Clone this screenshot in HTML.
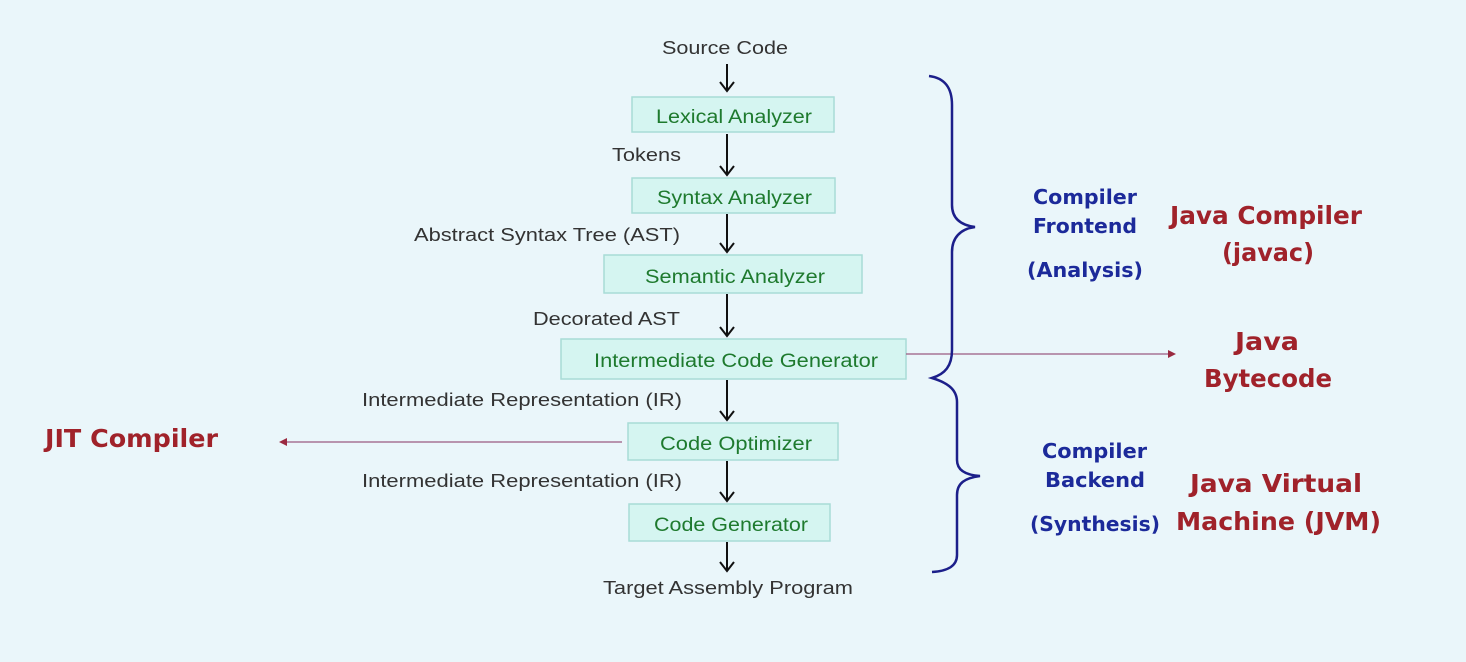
<!DOCTYPE html>
<html><head><meta charset="utf-8"><style>
body{margin:0;background:#eaf6fa;}
svg{display:block}
.b{fill:#d5f5f1;stroke:#a8dcd6;stroke-width:1.5}
.g{fill:#1e7a2e;font-family:"Liberation Sans",sans-serif;font-size:19px}
.k{fill:#333;font-family:"Liberation Sans",sans-serif;font-size:18px}
.bl{fill:#1c2a9a;font-family:"DejaVu Sans",sans-serif;font-size:20px;font-weight:bold}
.r{fill:#a0222a;font-family:"DejaVu Sans",sans-serif;font-size:25px;font-weight:bold}
.a{stroke:#111;stroke-width:2;fill:none}
</style></head><body>
<svg width="1466" height="662" viewBox="0 0 1466 662">
<rect width="1466" height="662" fill="#eaf6fa"/>
<text class="k" x="662" y="54" textLength="126" lengthAdjust="spacingAndGlyphs">Source Code</text>
<g class="a">
<path d="M727 64V90M720 82L727 91L734 82"/>
<path d="M727 134V174M720 166L727 175L734 166"/>
<path d="M727 214V251M720 243L727 252L734 243"/>
<path d="M727 294V335M720 327L727 336L734 327"/>
<path d="M727 380V419M720 411L727 420L734 411"/>
<path d="M727 461V500M720 492L727 501L734 492"/>
<path d="M727 542V570M720 562L727 571L734 562"/>
</g>
<rect class="b" x="632" y="97" width="202" height="35"/>
<text class="g" x="656" y="123" textLength="156" lengthAdjust="spacingAndGlyphs">Lexical Analyzer</text>
<rect class="b" x="632" y="178" width="203" height="35"/>
<text class="g" x="657" y="204" textLength="155" lengthAdjust="spacingAndGlyphs">Syntax Analyzer</text>
<rect class="b" x="604" y="255" width="258" height="38"/>
<text class="g" x="645" y="283" textLength="180" lengthAdjust="spacingAndGlyphs">Semantic Analyzer</text>
<rect class="b" x="561" y="339" width="345" height="40"/>
<text class="g" x="594" y="367" textLength="284" lengthAdjust="spacingAndGlyphs">Intermediate Code Generator</text>
<rect class="b" x="628" y="423" width="210" height="37"/>
<text class="g" x="660" y="450" textLength="152" lengthAdjust="spacingAndGlyphs">Code Optimizer</text>
<rect class="b" x="629" y="504" width="201" height="37"/>
<text class="g" x="654" y="531" textLength="154" lengthAdjust="spacingAndGlyphs">Code Generator</text>
<text class="k" x="612" y="161" textLength="69" lengthAdjust="spacingAndGlyphs">Tokens</text>
<text class="k" x="414" y="241" textLength="266" lengthAdjust="spacingAndGlyphs">Abstract Syntax Tree (AST)</text>
<text class="k" x="533" y="325" textLength="147" lengthAdjust="spacingAndGlyphs">Decorated AST</text>
<text class="k" x="362" y="406" textLength="320" lengthAdjust="spacingAndGlyphs">Intermediate Representation (IR)</text>
<text class="k" x="362" y="487" textLength="320" lengthAdjust="spacingAndGlyphs">Intermediate Representation (IR)</text>
<text class="k" x="603" y="594" textLength="250" lengthAdjust="spacingAndGlyphs">Target Assembly Program</text>
<path d="M906 354H1170" stroke="#9a5a80" stroke-width="1.3"/>
<path d="M1168 350L1176 354L1168 358Z" fill="#9a2a40"/>
<path d="M622 442H285" stroke="#9a5a80" stroke-width="1.3"/>
<path d="M287 438L279 442L287 446Z" fill="#9a2a40"/>
<path d="M929 76C945 78 952 88 952 105V205C952 218 960 225 975 227C960 229 952 238 952 252V350C952 366 945 374 932 378C945 382 957 388 957 402V460C957 470 965 475 980 476C965 478 957 483 957 495V555C957 566 948 571 932 572" fill="none" stroke="#1c1f8a" stroke-width="2.5"/>
<text class="bl" x="1033" y="204" textLength="104" lengthAdjust="spacingAndGlyphs">Compiler</text>
<text class="bl" x="1033" y="233" textLength="104" lengthAdjust="spacingAndGlyphs">Frontend</text>
<text class="bl" x="1027" y="277" textLength="116" lengthAdjust="spacingAndGlyphs">(Analysis)</text>
<text class="bl" x="1042" y="458" textLength="105" lengthAdjust="spacingAndGlyphs">Compiler</text>
<text class="bl" x="1045" y="487" textLength="100" lengthAdjust="spacingAndGlyphs">Backend</text>
<text class="bl" x="1030" y="531" textLength="130" lengthAdjust="spacingAndGlyphs">(Synthesis)</text>
<text class="r" x="1170" y="224" textLength="192" lengthAdjust="spacingAndGlyphs">Java Compiler</text>
<text class="r" x="1222" y="261" textLength="92" lengthAdjust="spacingAndGlyphs">(javac)</text>
<text class="r" x="1235" y="350" textLength="64" lengthAdjust="spacingAndGlyphs">Java</text>
<text class="r" x="1204" y="387" textLength="128" lengthAdjust="spacingAndGlyphs">Bytecode</text>
<text class="r" x="1190" y="492" textLength="172" lengthAdjust="spacingAndGlyphs">Java Virtual</text>
<text class="r" x="1176" y="530" textLength="205" lengthAdjust="spacingAndGlyphs">Machine (JVM)</text>
<text class="r" x="45" y="447" textLength="173" lengthAdjust="spacingAndGlyphs">JIT Compiler</text>
</svg>
</body></html>
